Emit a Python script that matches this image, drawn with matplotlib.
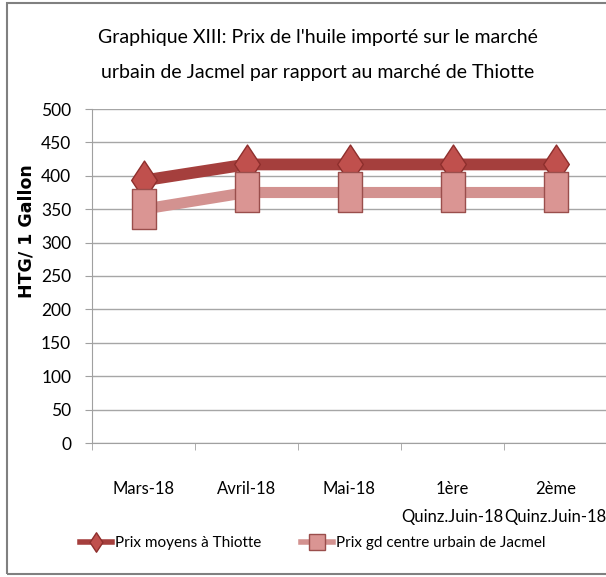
import matplotlib
matplotlib.use("Agg")
import matplotlib.pyplot as plt
from matplotlib.path import Path
from matplotlib.patches import Rectangle
from matplotlib.lines import Line2D

plt.rcParams['font.family'] = ['Lato', 'DejaVu Sans']

# data
categories = ["Mars-18", "Avril-18", "Mai-18", "1ère\nQuinz.Juin-18", "2ème\nQuinz.Juin-18"]
thiotte = [393, 417, 417, 417, 417]
jacmel = [350, 375, 375, 375, 375]
yticks = [0, 50, 100, 150, 200, 250, 300, 350, 400, 450, 500]

# marker shapes
diamond = Path([(0, 0.5), (0.33, 0), (0, -0.5), (-0.33, 0), (0, 0.5)],
               [Path.MOVETO, Path.LINETO, Path.LINETO, Path.LINETO, Path.CLOSEPOLY])
tallbox = Path([(-0.3, -0.5), (0.3, -0.5), (0.3, 0.5), (-0.3, 0.5), (-0.3, -0.5)],
               [Path.MOVETO, Path.LINETO, Path.LINETO, Path.LINETO, Path.CLOSEPOLY])

fig = plt.figure(figsize=(6.06, 5.77), dpi=100)
W, H = 606, 577
ax = fig.add_axes([92 / W, 1 - 443 / H, (607 - 92) / W, (443 - 109) / H])

x = list(range(len(categories)))
ax.plot(x, thiotte, color="#A53F3D", lw=8.5, solid_capstyle="butt",
        marker=diamond, markersize=28, markerfacecolor="#C0504D",
        markeredgecolor="#8E2F2D", markeredgewidth=1, zorder=3)
ax.plot(x, jacmel, color="#D39290", lw=8, solid_capstyle="butt",
        marker=tallbox, markersize=29, markerfacecolor="#DA9593",
        markeredgecolor="#9A4E4C", markeredgewidth=1, zorder=4)

ax.set_ylim(0, 500)
ax.set_yticks(yticks)
ax.set_xlim(-0.5, 4.5)
ax.set_xticks(x)
ax.set_xticklabels(categories, fontsize=12, linespacing=1.95)
ax.set_xticks([i - 0.5 for i in range(len(categories) + 1)], minor=True)
ax.tick_params(axis="x", which="major", length=0, pad=27)
ax.tick_params(axis="x", which="minor", length=5, color="#A0A0A0", direction="out")
ax.tick_params(axis="y", length=5, color="#A0A0A0", labelsize=12.5, pad=10)
ax.yaxis.grid(True, color="#A6A6A6", lw=1)
ax.set_axisbelow(True)
for s in ["top", "right"]:
    ax.spines[s].set_visible(False)
for s in ["left", "bottom"]:
    ax.spines[s].set_color("#A0A0A0")

ax.set_ylabel("HTG/ 1 Gallon", fontsize=12.5, fontweight="bold", family="DejaVu Sans")
ax.yaxis.set_label_coords(-0.11, 0.635)

fig.text(318 / W, 1 - 37 / H, "Graphique XIII: Prix de l'huile importé sur le marché",
         ha="center", va="center", fontsize=14)
fig.text(318 / W, 1 - 72 / H, "urbain de Jacmel par rapport au marché de Thiotte",
         ha="center", va="center", fontsize=14)

handles = [
    Line2D([], [], color="#A53F3D", lw=4, marker=diamond, markersize=14,
           markerfacecolor="#C0504D", markeredgecolor="#8E2F2D"),
    Line2D([], [], color="#D39290", lw=4, marker="s", markersize=11,
           markerfacecolor="#DA9593", markeredgecolor="#9A4E4C"),
]
fig.legend(handles, ["Prix moyens à Thiotte", "Prix gd centre urbain de Jacmel"],
           loc="center left", bbox_to_anchor=(66 / W, 1 - 543 / H), ncol=2,
           frameon=False, fontsize=11, handlelength=2.1, handletextpad=0.2,
           columnspacing=2.6)

fig.patches.append(Rectangle((7 / W, 3 / H), 1.0, 1 - 6 / H, transform=fig.transFigure,
                             fill=False, edgecolor="#808080", lw=1.5))

fig.savefig("out.png", dpi=100)
